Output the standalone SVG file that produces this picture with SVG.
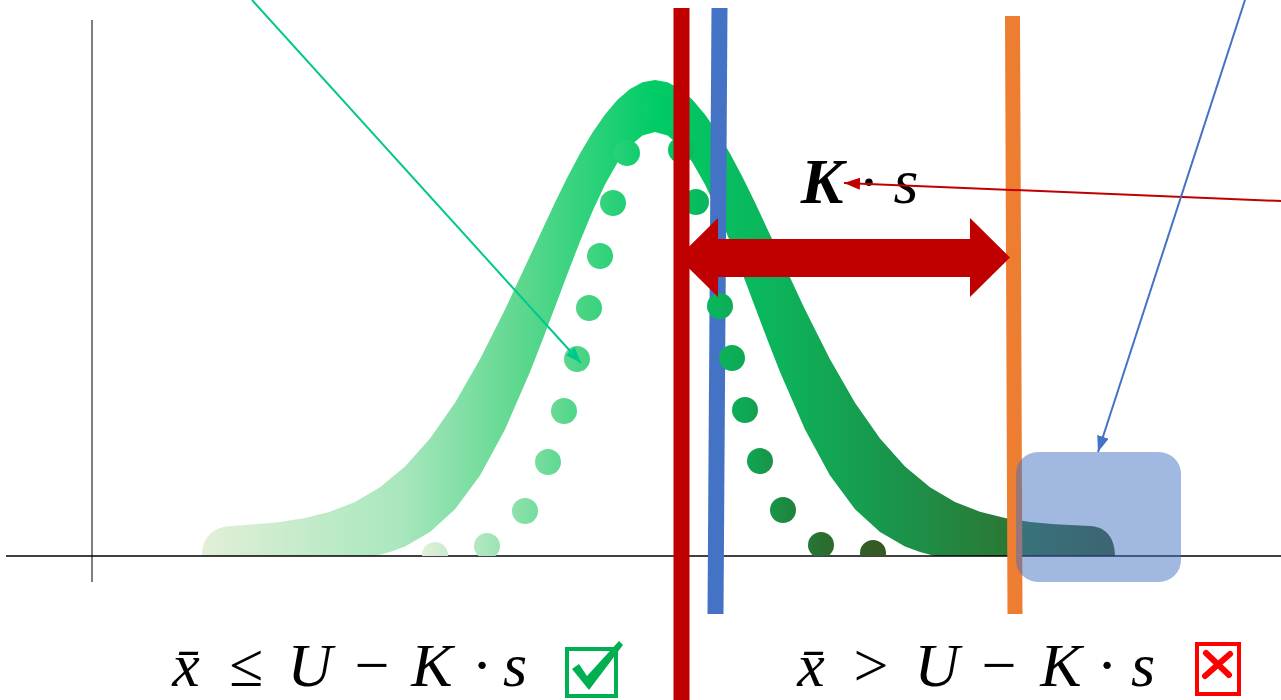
<svg xmlns="http://www.w3.org/2000/svg" width="1281" height="700" viewBox="0 0 1281 700">
<style>
.math{font-family:"Liberation Serif","Times New Roman",serif;font-size:64px;fill:#000}
.eq{font-size:62px}
.it{font-style:italic}
.conn{fill:none;stroke-width:2}
</style>
<defs>
<linearGradient id="band" gradientUnits="userSpaceOnUse" x1="202" y1="0" x2="1115" y2="0">
<stop offset="0" stop-color="#e2efd9"/>
<stop offset="0.217" stop-color="#a9e7be"/>
<stop offset="0.348" stop-color="#5ed88f"/>
<stop offset="0.496" stop-color="#00cc66"/>
<stop offset="0.633" stop-color="#0db35a"/>
<stop offset="0.765" stop-color="#1b934a"/>
<stop offset="0.874" stop-color="#2a7a37"/>
<stop offset="1" stop-color="#375623"/>
</linearGradient>
<linearGradient id="dotg" gradientUnits="userSpaceOnUse" x1="422" y1="0" x2="886" y2="0">
<stop offset="0" stop-color="#e2efd9"/>
<stop offset="0.14" stop-color="#a8e6bc"/>
<stop offset="0.334" stop-color="#4fd587"/>
<stop offset="0.506" stop-color="#00cc66"/>
<stop offset="0.696" stop-color="#0fa854"/>
<stop offset="0.86" stop-color="#2a6e30"/>
<stop offset="1" stop-color="#375623"/>
</linearGradient>
<clipPath id="above"><rect x="0" y="0" width="1281" height="556"/></clipPath>
<marker id="ahRed" markerWidth="8" markerHeight="6" refX="8" refY="3" orient="auto" markerUnits="strokeWidth"><path d="M0,0 L8,3 L0,6 Z" fill="#c00000"/></marker>
<marker id="ahBlue" markerWidth="8" markerHeight="6" refX="8" refY="3" orient="auto" markerUnits="strokeWidth"><path d="M0,0 L8,3 L0,6 Z" fill="#4472c4"/></marker>
<marker id="ahGreen" markerWidth="8" markerHeight="6" refX="8" refY="3" orient="auto" markerUnits="strokeWidth"><path d="M0,0 L8,3 L0,6 Z" fill="#00c88c"/></marker>
</defs>

<g id="bell-band">
<path fill="url(#band)" d="M202,556 C202,538 212,527 232,526 L255,524.3 L280,522 L305,518.1 L330,511.8 L355,501.9 L380,487.3 L405,466.5 L430,438.5 L455,402.7 L480,359.2 L505,309.4 L530,255.9 L555,202.4 L567.5,177.1 L580,153.6 L592.5,132.5 L605,114.4 L617.5,99.7 L630,88.9 L642.5,82.2 L655,80 L667.5,82.2 L680,88.9 L692.5,99.7 L705,114.4 L717.5,132.5 L730,153.6 L742.5,177.1 L755,202.4 L780,255.9 L805,309.4 L830,359.2 L855,402.7 L880,438.5 L905,466.5 L930,487.3 L955,501.9 L980,511.8 L1005,518.1 L1030,522 L1055,524.3 L1080,525.6 L1090,526 C1108,527 1115,540 1115,556 L935,556 L920,551.9 L905,546.4 L880,532.1 L855,509.3 L830,475.5 L805,429.4 L780,372.1 L767.5,340 L755,307 L742.5,273.7 L730,241.5 L717.5,211.3 L705,184.6 L692.5,162.4 L680,145.8 L667.5,135.5 L655,132 L642.5,135.5 L630,145.8 L617.5,162.4 L605,184.6 L592.5,211.3 L580,241.5 L567.5,273.7 L555,307 L542.5,340 L530,372.1 L505,429.4 L480,475.5 L455,509.3 L430,532.1 L405,546.4 L390,551.9 L375,556 Z"/>
</g>

<g id="axes" stroke="#000">
<line x1="92" y1="20" x2="92" y2="582" stroke-width="1"/>
<line x1="6" y1="556" x2="1281" y2="556" stroke-width="1.5"/>
</g>

<g id="blue-line"><line x1="719.5" y1="8" x2="715.5" y2="614" stroke="#4472c4" stroke-width="16"/></g>

<g id="dots" fill="url(#dotg)" clip-path="url(#above)">
<circle cx="435" cy="555" r="13"/>
<circle cx="487" cy="546" r="13"/>
<circle cx="525" cy="511" r="13"/>
<circle cx="548" cy="462" r="13"/>
<circle cx="564" cy="411" r="13"/>
<circle cx="577" cy="359" r="13"/>
<circle cx="589" cy="308" r="13"/>
<circle cx="600" cy="256" r="13"/>
<circle cx="613" cy="203" r="13"/>
<circle cx="627" cy="153" r="13"/>
<circle cx="657" cy="108" r="13"/>
<circle cx="681" cy="150" r="13"/>
<circle cx="696" cy="202" r="13"/>
<circle cx="708" cy="254" r="13"/>
<circle cx="720" cy="306" r="13"/>
<circle cx="732" cy="358" r="13"/>
<circle cx="745" cy="410" r="13"/>
<circle cx="760" cy="461" r="13"/>
<circle cx="783" cy="510" r="13"/>
<circle cx="821" cy="545" r="13"/>
<circle cx="873" cy="553" r="13"/>
</g>

<g id="red-line"><line x1="681.5" y1="8" x2="681.5" y2="700" stroke="#c00000" stroke-width="16"/></g>
<g id="orange-line"><line x1="1012.5" y1="16" x2="1015" y2="614" stroke="#ed7d31" stroke-width="15"/></g>

<g id="tail-box"><rect x="1016" y="452" width="165" height="130" rx="22" fill="#4472c4" fill-opacity="0.5"/></g>

<g id="double-arrow"><path fill="#c00000" d="M678,257.5 L718,218 L718,239 L970,239 L970,218 L1010,257.5 L970,297 L970,277 L718,277 L718,297 Z"/></g>

<g id="ks-label">
<text class="math it" x="822" y="203" text-anchor="middle" font-weight="bold">K</text>
<text class="math" x="869" y="203" text-anchor="middle">·</text>
<text class="math it" x="906" y="203" text-anchor="middle">s</text>
</g>

<g id="connectors">
<line class="conn" x1="252" y1="0" x2="581" y2="363" stroke="#00c88c" marker-end="url(#ahGreen)"/>
<line class="conn" x1="1281" y1="201" x2="844" y2="183" stroke="#c00000" marker-end="url(#ahRed)"/>
<line class="conn" x1="1245" y1="0" x2="1098" y2="452" stroke="#4472c4" marker-end="url(#ahBlue)"/>
</g>

<g id="formula-ok">
<text class="math eq"><tspan class="it" x="186" y="686" text-anchor="middle">x̄</tspan><tspan x="246" y="686" text-anchor="middle">≤</tspan><tspan class="it" x="310" y="686" text-anchor="middle">U</tspan><tspan x="372" y="686" text-anchor="middle">−</tspan><tspan class="it" x="432" y="686" text-anchor="middle">K</tspan><tspan x="482" y="686" text-anchor="middle">·</tspan><tspan class="it" x="515" y="686" text-anchor="middle">s</tspan></text>
<rect x="567" y="649" width="49" height="47" fill="none" stroke="#00b050" stroke-width="4"/>
<path fill="#00b050" d="M572,669 L579,664 L587,676 L619,641 L623,645 L589,690 Z"/>
</g>

<g id="formula-fail">
<text class="math eq"><tspan class="it" x="811" y="686" text-anchor="middle">x̄</tspan><tspan x="871" y="686" text-anchor="middle">&gt;</tspan><tspan class="it" x="937" y="686" text-anchor="middle">U</tspan><tspan x="999" y="686" text-anchor="middle">−</tspan><tspan class="it" x="1061" y="686" text-anchor="middle">K</tspan><tspan x="1107" y="686" text-anchor="middle">·</tspan><tspan class="it" x="1143" y="686" text-anchor="middle">s</tspan></text>
<rect x="1197" y="644" width="42" height="50" fill="none" stroke="#ff0000" stroke-width="4"/>
<path stroke="#ff0000" stroke-width="6" stroke-linecap="round" fill="none" d="M1206,653 L1229,675 M1230,654 L1205,676"/>
</g>
</svg>
